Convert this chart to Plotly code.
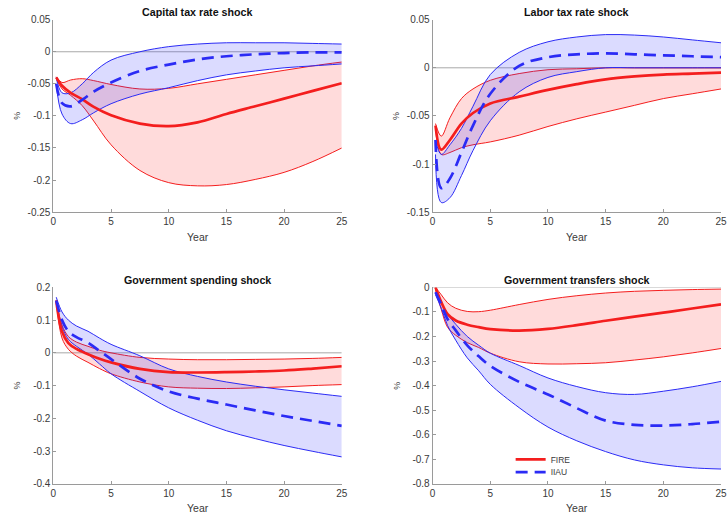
import plotly.graph_objects as go

W, H = 728, 522

# ---- Capital tax rate shock ----
YEARS_CAP = [0.25, 0.75, 1.5, 2.5, 3.5, 5, 7.5, 10, 12.5, 15, 17.5, 20, 22.5, 25]
cap_fire_med = [-0.040, -0.053, -0.064, -0.074, -0.086, -0.099, -0.112, -0.116, -0.110, -0.097, -0.085, -0.073, -0.061, -0.049]
cap_fire_hi = [-0.039, -0.048, -0.044, -0.042, -0.045, -0.051, -0.058, -0.057, -0.050, -0.043, -0.036, -0.029, -0.022, -0.016]
cap_fire_lo = [-0.042, -0.058, -0.068, -0.084, -0.108, -0.145, -0.185, -0.204, -0.209, -0.207, -0.199, -0.188, -0.171, -0.150]
cap_iiau_med = [-0.050, -0.080, -0.085, -0.075, -0.062, -0.048, -0.030, -0.020, -0.012, -0.007, -0.004, -0.002, -0.001, -0.001]
cap_iiau_hi = [-0.040, -0.064, -0.064, -0.050, -0.032, -0.013, 0.000, 0.008, 0.012, 0.014, 0.014, 0.014, 0.013, 0.012]
cap_iiau_lo = [-0.050, -0.097, -0.112, -0.106, -0.095, -0.081, -0.066, -0.056, -0.045, -0.036, -0.030, -0.025, -0.022, -0.019]

# ---- Labor tax rate shock ----
YEARS_LAB = [0.25, 0.75, 1.5, 2.5, 3.5, 5, 7.5, 10, 12.5, 15, 17.5, 20, 22.5, 25]
lab_fire_med = [-0.060, -0.085, -0.075, -0.058, -0.047, -0.037, -0.030, -0.023, -0.017, -0.012, -0.009, -0.007, -0.006, -0.005]
lab_fire_hi = [-0.058, -0.071, -0.052, -0.032, -0.022, -0.013, -0.006, -0.002, -0.001, 0.0, 0.0, 0.0, 0.0, 0.0]
lab_fire_lo = [-0.062, -0.090, -0.088, -0.083, -0.080, -0.077, -0.070, -0.061, -0.053, -0.046, -0.039, -0.032, -0.027, -0.022]
lab_iiau_med = [-0.075, -0.125, -0.115, -0.088, -0.060, -0.027, 0.002, 0.011, 0.014, 0.015, 0.014, 0.013, 0.012, 0.011]
lab_iiau_hi = [-0.075, -0.090, -0.080, -0.063, -0.040, -0.007, 0.016, 0.027, 0.032, 0.0345, 0.034, 0.032, 0.029, 0.026]
lab_iiau_lo = [-0.090, -0.140, -0.135, -0.112, -0.086, -0.055, -0.025, -0.010, -0.004, 0.0, 0.0, 0.0, 0.0, 0.0]

# ---- Government spending shock ----
YEARS_GS = [0.25, 0.75, 1.3, 2, 3, 4, 5, 7.5, 10, 12.5, 15, 17.5, 20, 22.5, 25]
gs_fire_med = [0.160, 0.065, 0.030, 0.012, -0.004, -0.018, -0.029, -0.049, -0.059, -0.060, -0.059, -0.057, -0.054, -0.048, -0.041]
gs_fire_hi = [0.160, 0.085, 0.050, 0.033, 0.020, 0.008, 0.000, -0.014, -0.019, -0.021, -0.021, -0.020, -0.019, -0.017, -0.014]
gs_fire_lo = [0.160, 0.045, 0.011, -0.010, -0.029, -0.048, -0.064, -0.089, -0.104, -0.108, -0.109, -0.107, -0.104, -0.100, -0.097]
gs_iiau_med = [0.160, 0.100, 0.066, 0.048, 0.031, 0.006, -0.019, -0.079, -0.118, -0.140, -0.158, -0.176, -0.193, -0.208, -0.223]
gs_iiau_hi = [0.170, 0.125, 0.100, 0.082, 0.066, 0.045, 0.026, -0.009, -0.049, -0.072, -0.089, -0.102, -0.113, -0.123, -0.133]
gs_iiau_lo = [0.150, 0.080, 0.041, 0.020, -0.004, -0.034, -0.064, -0.118, -0.168, -0.206, -0.238, -0.262, -0.283, -0.301, -0.318]

# ---- Government transfers shock ----
YEARS_TR = [0.25, 0.75, 1.3, 2, 3, 4, 5, 7.5, 10, 12.5, 15, 17.5, 20, 22.5, 25]
tr_fire_med = [0.000, -0.060, -0.109, -0.135, -0.152, -0.162, -0.170, -0.176, -0.169, -0.154, -0.136, -0.119, -0.103, -0.086, -0.069]
tr_fire_hi = [0.000, -0.030, -0.063, -0.085, -0.098, -0.099, -0.093, -0.070, -0.049, -0.034, -0.023, -0.016, -0.012, -0.009, -0.007]
tr_fire_lo = [-0.010, -0.090, -0.163, -0.195, -0.225, -0.245, -0.268, -0.303, -0.312, -0.311, -0.307, -0.296, -0.283, -0.267, -0.249]
tr_iiau_med = [-0.020, -0.070, -0.129, -0.175, -0.236, -0.281, -0.320, -0.385, -0.436, -0.492, -0.543, -0.560, -0.563, -0.557, -0.547]
tr_iiau_hi = [-0.020, -0.060, -0.109, -0.150, -0.200, -0.236, -0.268, -0.318, -0.369, -0.404, -0.429, -0.436, -0.423, -0.405, -0.383]
tr_iiau_lo = [-0.030, -0.085, -0.156, -0.215, -0.287, -0.340, -0.395, -0.490, -0.569, -0.625, -0.669, -0.703, -0.723, -0.735, -0.740]

# ---- Axis ticks ----
X_TICKS = [0, 5, 10, 15, 20, 25]
X_TICKTEXT = ["0", "5", "10", "15", "20", "25"]
CAP_YTICKS = [0.05, 0, -0.05, -0.1, -0.15, -0.2, -0.25]
CAP_YTEXT = ["0.05", "0", "-0.05", "-0.1", "-0.15", "-0.2", "-0.25"]
LAB_YTICKS = [0.05, 0, -0.05, -0.1, -0.15]
LAB_YTEXT = ["0.05", "0", "-0.05", "-0.1", "-0.15"]
GS_YTICKS = [0.2, 0.1, 0, -0.1, -0.2, -0.3, -0.4]
GS_YTEXT = ["0.2", "0.1", "0", "-0.1", "-0.2", "-0.3", "-0.4"]
TR_YTICKS = [0, -0.1, -0.2, -0.3, -0.4, -0.5, -0.6, -0.7, -0.8]
TR_YTEXT = ["0", "-0.1", "-0.2", "-0.3", "-0.4", "-0.5", "-0.6", "-0.7", "-0.8"]

TITLES = ["Capital tax rate shock", "Labor tax rate shock",
          "Government spending shock", "Government transfers shock"]
SERIES_NAMES = ["FIRE", "IIAU"]

RED = "#f41e1e"
BLUE = "#2b2bf5"
RED_FILL = "rgba(255,40,40,0.17)"
BLUE_FILL = "rgba(40,40,255,0.17)"
FONT = "Liberation Sans, Arial, sans-serif"
TXT = "#3a3a3a"
AXC = "#9a9a9a"

# plot boxes in pixels: left, right, top, bottom
panels = [
    dict(years=YEARS_CAP, fire=(cap_fire_lo, cap_fire_med, cap_fire_hi),
         iiau=(cap_iiau_lo, cap_iiau_med, cap_iiau_hi),
         yr=[-0.25, 0.05], yt=CAP_YTICKS, ytt=CAP_YTEXT, box=(51, 343, 14, 211)),
    dict(years=YEARS_LAB, fire=(lab_fire_lo, lab_fire_med, lab_fire_hi),
         iiau=(lab_iiau_lo, lab_iiau_med, lab_iiau_hi),
         yr=[-0.15, 0.05], yt=LAB_YTICKS, ytt=LAB_YTEXT, box=(435, 727, 14, 211)),
    dict(years=YEARS_GS, fire=(gs_fire_lo, gs_fire_med, gs_fire_hi),
         iiau=(gs_iiau_lo, gs_iiau_med, gs_iiau_hi),
         yr=[-0.4, 0.2], yt=GS_YTICKS, ytt=GS_YTEXT, box=(51, 343, 288, 489)),
    dict(years=YEARS_TR, fire=(tr_fire_lo, tr_fire_med, tr_fire_hi),
         iiau=(tr_iiau_lo, tr_iiau_med, tr_iiau_hi),
         yr=[-0.8, 0.0], yt=TR_YTICKS, ytt=TR_YTEXT, box=(435, 727, 288, 489)),
]


def px_x(v):
    return v / W


def px_y(v):
    return 1 - v / H


fig = go.Figure()
annotations = []
shapes = []

for i, p in enumerate(panels):
    n = "" if i == 0 else str(i + 1)
    xa, ya = "x" + n, "y" + n
    yrs = p["years"]
    f_lo, f_med, f_hi = p["fire"]
    b_lo, b_med, b_hi = p["iiau"]
    common = dict(xaxis=xa, yaxis=ya, mode="lines", hoverinfo="skip")

    # FIRE band
    fig.add_trace(go.Scatter(x=yrs, y=f_lo, line=dict(color=RED, width=1, shape="spline"),
                             showlegend=False, **common))
    fig.add_trace(go.Scatter(x=yrs, y=f_hi, line=dict(color=RED, width=1, shape="spline"),
                             fill="tonexty", fillcolor=RED_FILL, showlegend=False, **common))
    # IIAU band
    fig.add_trace(go.Scatter(x=yrs, y=b_lo, line=dict(color=BLUE, width=1, shape="spline"),
                             showlegend=False, **common))
    fig.add_trace(go.Scatter(x=yrs, y=b_hi, line=dict(color=BLUE, width=1, shape="spline"),
                             fill="tonexty", fillcolor=BLUE_FILL, showlegend=False, **common))
    # medians
    fig.add_trace(go.Scatter(x=yrs, y=f_med, name=SERIES_NAMES[0],
                             line=dict(color=RED, width=2.7, shape="spline"),
                             showlegend=(i == 3), legend="legend", **common))
    fig.add_trace(go.Scatter(x=yrs, y=b_med, name=SERIES_NAMES[1],
                             line=dict(color=BLUE, width=2.7, shape="spline", dash="12px,7px"),
                             showlegend=(i == 3), legend="legend2", **common))

    l, r, t, b = p["box"]
    axis_common = dict(showgrid=False, zeroline=False, showline=True, linecolor=AXC,
                       linewidth=1, ticks="inside", ticklen=3, tickcolor=AXC,
                       tickfont=dict(family=FONT, size=10, color=TXT), fixedrange=True)
    fig.update_layout(**{
        ("xaxis" + n): dict(domain=[px_x(l), px_x(r)], range=[0, 25], anchor=ya,
                            tickvals=X_TICKS, ticktext=X_TICKTEXT, **axis_common),
        ("yaxis" + n): dict(domain=[px_y(b), px_y(t)], range=p["yr"], anchor=xa,
                            tickvals=p["yt"], ticktext=p["ytt"], **axis_common),
    })

    # zero reference line
    shapes.append(dict(type="line", xref=xa, yref=ya, x0=0, x1=25, y0=0, y1=0,
                       line=dict(color="#a8a8a8", width=1), layer="below"))

    cx = (l + r) / 2
    annotations.append(dict(text="<b>" + TITLES[i] + "</b>", xref="paper", yref="paper",
                            x=px_x(cx), y=px_y(t - 8), xanchor="center", yanchor="middle",
                            showarrow=False, font=dict(family=FONT, size=10.7, color="#111")))
    annotations.append(dict(text="Year", xref="paper", yref="paper",
                            x=px_x(cx), y=px_y(b + 25), xanchor="center", yanchor="middle",
                            showarrow=False, font=dict(family=FONT, size=10.5, color=TXT)))
    annotations.append(dict(text="%", xref="paper", yref="paper", textangle=-90,
                            x=px_x(l - 37), y=px_y((t + b) / 2), xanchor="center",
                            yanchor="middle", showarrow=False,
                            font=dict(family=FONT, size=9, color=TXT)))

legend_style = dict(bgcolor="rgba(0,0,0,0)", borderwidth=0,
                    font=dict(family=FONT, size=8.5, color=TXT),
                    xanchor="left", yanchor="middle", itemwidth=30)
fig.update_layout(
    width=W, height=H,
    margin=dict(l=0, r=0, t=0, b=0),
    paper_bgcolor="white", plot_bgcolor="white",
    shapes=shapes, annotations=annotations,
    legend=dict(x=px_x(514), y=px_y(464), **legend_style),
    legend2=dict(x=px_x(514), y=px_y(477), **legend_style),
)

fig.write_html("out.html")
